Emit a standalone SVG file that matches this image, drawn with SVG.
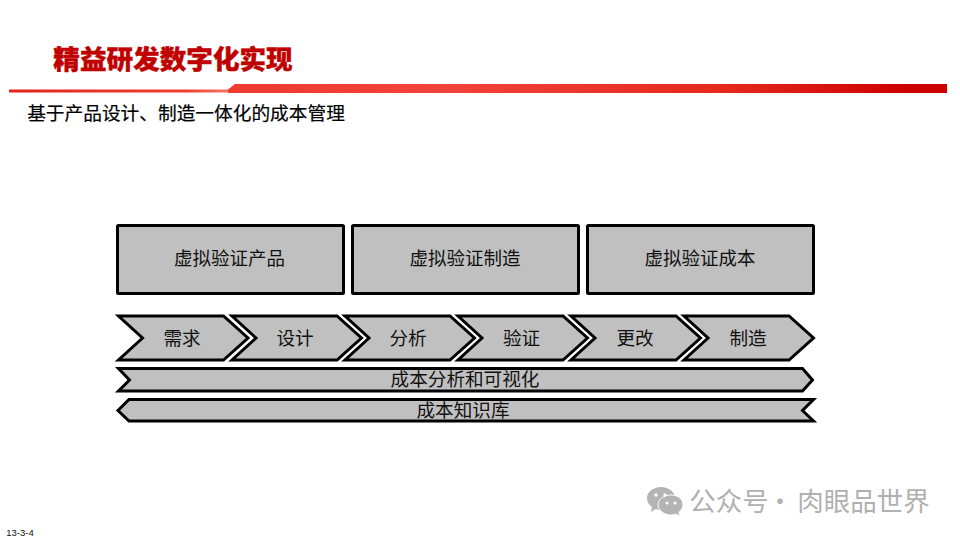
<svg xmlns="http://www.w3.org/2000/svg" width="960" height="540" viewBox="0 0 960 540">
<style>
text{font-family:"Noto Sans CJK SC","Liberation Sans",sans-serif;text-anchor:middle}
.s{fill:#c0c0c0;stroke:#000;stroke-width:3;stroke-linejoin:miter}
.l{font-size:18.6px;fill:#111}
.b{font-size:18.5px;fill:#111}
.w{font-size:26.5px;fill:#b0b0b0}
</style>
<defs>
<linearGradient id="g1" x1="0" x2="1" y1="0" y2="0"><stop offset="0" stop-color="#e2231a"/><stop offset="0.8" stop-color="#ee4030"/><stop offset="1" stop-color="#f47a68"/></linearGradient>
<linearGradient id="g2" x1="0" x2="1" y1="0" y2="0"><stop offset="0" stop-color="#ee3a30"/><stop offset="0.3" stop-color="#f2433a"/><stop offset="0.7" stop-color="#e4281c"/><stop offset="0.95" stop-color="#cc0000"/></linearGradient>
<path id="chev" d="M0 0H105L129.500 22 105 44H0L24 22Z"/>
</defs>
<rect width="960" height="540" fill="#fff"/>
<g id="title"><text x="173" y="68.500" font-size="26.600" font-weight="900" fill="#c00000" stroke="#c00000" stroke-width="0.4">精益研发数字化实现</text></g>
<g id="band"><rect x="9" y="89.500" width="222" height="3" fill="url(#g1)"/><path d="M228 89.500L235 84H947V93H228Z" fill="url(#g2)"/></g>
<g id="subtitle"><text x="186" y="120" font-size="18.700" fill="#000" stroke="#000" stroke-width="0.2">基于产品设计、制造一体化的成本管理</text></g>
<g id="box1"><rect class="s" x="117.500" y="225.500" width="226" height="68" rx="1"/><text class="b" x="229.500" y="265">虚拟验证产品</text></g>
<g id="box2"><rect class="s" x="352.500" y="225.500" width="226" height="68" rx="1"/><text class="b" x="465" y="265">虚拟验证制造</text></g>
<g id="box3"><rect class="s" x="587.500" y="225.500" width="226" height="68" rx="1"/><text class="b" x="700" y="265">虚拟验证成本</text></g>
<g id="chev1"><use href="#chev" class="s" x="118.500" y="316"/><text class="l" x="182" y="345">需求</text></g>
<g id="chev2"><use href="#chev" class="s" x="232" y="316"/><text class="l" x="295" y="345">设计</text></g>
<g id="chev3"><use href="#chev" class="s" x="345" y="316"/><text class="l" x="408" y="345">分析</text></g>
<g id="chev4"><use href="#chev" class="s" x="458" y="316"/><text class="l" x="521.500" y="345">验证</text></g>
<g id="chev5"><use href="#chev" class="s" x="571" y="316"/><text class="l" x="635" y="345">更改</text></g>
<g id="chev6"><use href="#chev" class="s" x="684" y="316"/><text class="l" x="748" y="345">制造</text></g>
<g id="bar1"><path class="s" d="M118.500 368.500H802.500L812.500 380 802.500 391H118.500L129.500 380Z"/><text class="l" x="465" y="386">成本分析和可视化</text></g>
<g id="bar2"><path class="s" d="M129 399.500H813.500L802.500 410.500 813.500 421H129L118 410.500Z"/><text class="l" x="463" y="417">成本知识库</text></g>
<g id="watermark">
<path d="M661 487C653 487 647 492 647 498 647 502 649 505 652 507L651 512 656 509C658 510 660 510 662 510 668 510 675 505 675 498 675 492 669 487 661 487Z" fill="#b4b4b4"/>
<path d="M671 495C664 495 658 499 658 505 658 510 664 515 671 515 672 515 674 515 675 514L680 516 679 512C681 510 683 508 683 505 683 499 678 495 671 495Z" fill="#b4b4b4" stroke="#fff" stroke-width="1"/>
<circle cx="656" cy="495" r="1.700" fill="#fff"/><circle cx="665" cy="495" r="1.700" fill="#fff"/>
<circle cx="667" cy="503" r="1.500" fill="#fff"/><circle cx="675" cy="503" r="1.500" fill="#fff"/>
<text class="w" x="729" y="511">公众号</text><text class="w" x="780" y="511">·</text><text class="w" x="863.500" y="511">肉眼品世界</text>
</g>
<g id="footer"><text x="20" y="536" font-size="9.500" fill="#111" style="font-family:'Liberation Sans',sans-serif">13-3-4</text></g>
</svg>
